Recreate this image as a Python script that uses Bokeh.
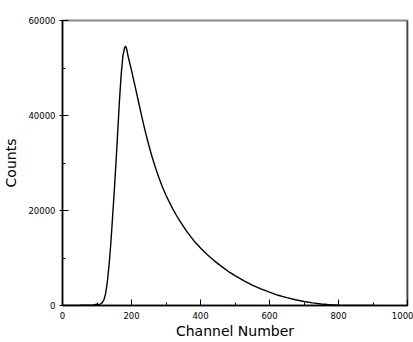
from bokeh.plotting import figure
from bokeh.models import Range1d, SingleIntervalTicker, Span
from bokeh.embed import file_html
from bokeh.resources import INLINE

# Data
channel = [0, 50, 90, 100, 105, 110, 115, 120, 125, 130, 135, 140, 145, 150,
           155, 160, 165, 170, 175, 180, 183, 186, 190, 195, 200, 210, 220,
           230, 240, 250, 260, 270, 280, 290, 300, 310, 320, 330, 340, 360,
           380, 400, 420, 440, 460, 480, 500, 525, 550, 575, 600, 625, 650,
           675, 700, 725, 750, 775, 800, 850, 900]
counts = [0, 50, 100, 300, 200, 300, 600, 1200, 2500, 5000, 8500, 13000,
          18500, 24000, 30000, 36500, 43000, 48500, 52500, 54300, 54600,
          54000, 52500, 51000, 49500, 46300, 43000, 39700, 36600, 33800,
          31200, 28900, 26800, 24900, 23200, 21700, 20300, 19000, 17800,
          15600, 13700, 12100, 10700, 9400, 8300, 7200, 6300, 5250, 4300,
          3500, 2800, 2150, 1650, 1200, 850, 550, 330, 150, 60, 20, 0]

X_MIN, X_MAX = 0, 1000
Y_MIN, Y_MAX = 0, 60000
X_STEP, Y_STEP = 200, 20000

p = figure(width=413, height=342, output_backend="svg", toolbar_location=None,
           x_range=Range1d(X_MIN, X_MAX), y_range=Range1d(Y_MIN, Y_MAX),
           min_border_left=62, min_border_right=6, min_border_top=20,
           min_border_bottom=37)

p.line(channel, counts, line_color="black", line_width=1.4)

p.grid.visible = False
p.outline_line_color = "#888888"
p.outline_line_width = 2
p.add_layout(Span(location=X_MAX, dimension="height", line_color="black",
                  line_width=1.5))

p.xaxis.ticker = SingleIntervalTicker(interval=X_STEP, num_minor_ticks=2)
p.yaxis.ticker = SingleIntervalTicker(interval=Y_STEP, num_minor_ticks=2)

p.xaxis.axis_label = "Channel Number"
p.yaxis.axis_label = "Counts"

for ax in (p.xaxis, p.yaxis):
    ax.axis_line_color = "black"
    ax.axis_line_width = 1.5
    ax.major_tick_line_color = "black"
    ax.minor_tick_line_color = "black"
    ax.major_tick_in = 6
    ax.minor_tick_in = 3
    ax.minor_tick_out = 0
    ax.major_label_text_font = "DejaVu Sans"
    ax.major_label_text_font_size = "8.5px"
    ax.major_label_text_color = "black"
    ax.axis_label_text_font = "DejaVu Sans"
    ax.axis_label_text_font_size = "14px"
    ax.axis_label_text_font_style = "normal"
    ax.axis_label_text_color = "black"

p.xaxis.major_tick_out = 0
p.yaxis.major_tick_out = 3
p.xaxis.major_label_standoff = 6
p.yaxis.major_label_standoff = 4
p.xaxis.axis_label_standoff = 1
p.yaxis.axis_label_standoff = 6

open("out.html", "w").write(file_html(p, INLINE))
